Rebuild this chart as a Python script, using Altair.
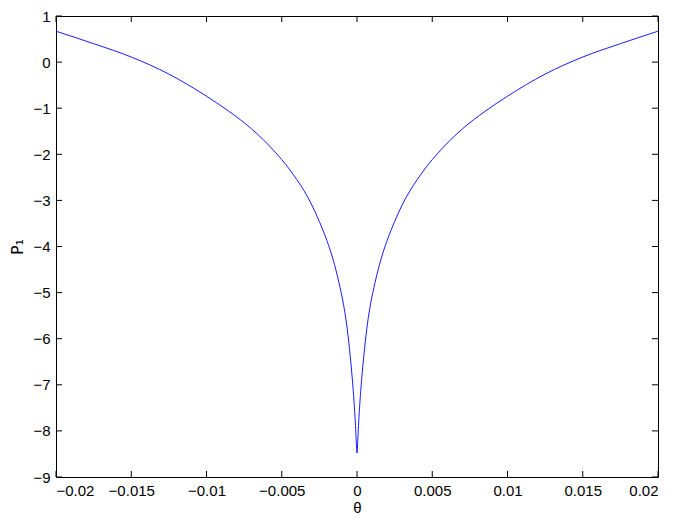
import altair as alt
import pandas as pd

# Values
theta = [-0.02, -0.0175, -0.015, -0.0125, -0.01, -0.0085, -0.007, -0.0055, -0.0045,
         -0.004, -0.0035, -0.003, -0.0025, -0.002, -0.0016, -0.0012, -0.0009, -0.0007,
         -0.0005, -0.0003, -0.0002, -0.0001, -0.00005, 0.0,
         0.00005, 0.0001, 0.0002, 0.0003, 0.0005, 0.0007, 0.0009, 0.0012, 0.0016,
         0.002, 0.0025, 0.003, 0.0035, 0.004, 0.0045, 0.0055, 0.007, 0.0085,
         0.01, 0.0125, 0.015, 0.0175, 0.02]
p1 = [0.67, 0.40, 0.11, -0.26, -0.74, -1.07, -1.45, -1.93, -2.32,
      -2.55, -2.80, -3.10, -3.46, -3.87, -4.27, -4.78, -5.25, -5.66,
      -6.22, -6.92, -7.35, -7.88, -8.22, -8.48,
      -8.22, -7.88, -7.35, -6.92, -6.22, -5.66, -5.25, -4.78, -4.27,
      -3.87, -3.46, -3.10, -2.80, -2.55, -2.32, -1.93, -1.45, -1.07,
      -0.74, -0.26, 0.11, 0.40, 0.67]

x_ticks = [-0.02, -0.015, -0.01, -0.005, 0.0, 0.005, 0.01, 0.015, 0.02]
y_ticks = [-9, -8, -7, -6, -5, -4, -3, -2, -1, 0, 1]

W, H = 602, 461
TICK = 6
FONT = "Liberation Sans"

df = pd.DataFrame({"theta": theta, "p1": p1})
xt = pd.DataFrame({"theta": x_ticks})
yt = pd.DataFrame({"p1": y_ticks})

xscale = alt.Scale(domain=[-0.02, 0.02], nice=False, zero=False)
yscale = alt.Scale(domain=[-9, 1], nice=False, zero=False)

xaxis = alt.Axis(values=x_ticks, format="~g", title="θ", tickSize=0,
                 labelPadding=6, labelFontSize=15, titleFontSize=15,
                 titleFontWeight="normal", titleY=23, titleBaseline="top",
                 labelFont=FONT, titleFont=FONT, labelColor="black",
                 titleColor="black", domain=False, grid=False)
yaxis = alt.Axis(values=y_ticks, format="~g", title="P₁", tickSize=0,
                 labelPadding=6, labelFontSize=15, titleFontSize=16,
                 titleFontWeight="normal", titleX=-39, titleY=H / 2,
                 titleAngle=270, titleAlign="center", titleBaseline="middle",
                 labelFont=FONT, titleFont="DejaVu Sans", labelColor="black",
                 titleColor="black", domain=False, grid=False)

X = alt.X("theta:Q", scale=xscale, axis=xaxis)
Y = alt.Y("p1:Q", scale=yscale, axis=yaxis)

line = alt.Chart(df).mark_line(color="#0000ff", strokeWidth=0.9,
                               interpolate="monotone").encode(
    x=X, y=Y, order=alt.Order("theta:Q"))

bottom_ticks = alt.Chart(xt).mark_rule(color="black", strokeWidth=1).encode(
    x=X, y=alt.value(H), y2=alt.value(H - TICK))
top_ticks = alt.Chart(xt).mark_rule(color="black", strokeWidth=1).encode(
    x=X, y=alt.value(0), y2=alt.value(TICK))
left_ticks = alt.Chart(yt).mark_rule(color="black", strokeWidth=1).encode(
    y=Y, x=alt.value(0), x2=alt.value(TICK))
right_ticks = alt.Chart(yt).mark_rule(color="black", strokeWidth=1).encode(
    y=Y, x=alt.value(W), x2=alt.value(W - TICK))

chart = alt.layer(line, bottom_ticks, top_ticks, left_ticks, right_ticks).properties(
    width=W, height=H,
    padding={"left": 48, "top": 8, "right": 15, "bottom": 39},
    autosize=alt.AutoSizeParams(type="none"),
    background="white",
).configure_view(stroke="black", strokeWidth=1)

chart.save("out.html", embed_options={"renderer": "svg", "actions": False})
